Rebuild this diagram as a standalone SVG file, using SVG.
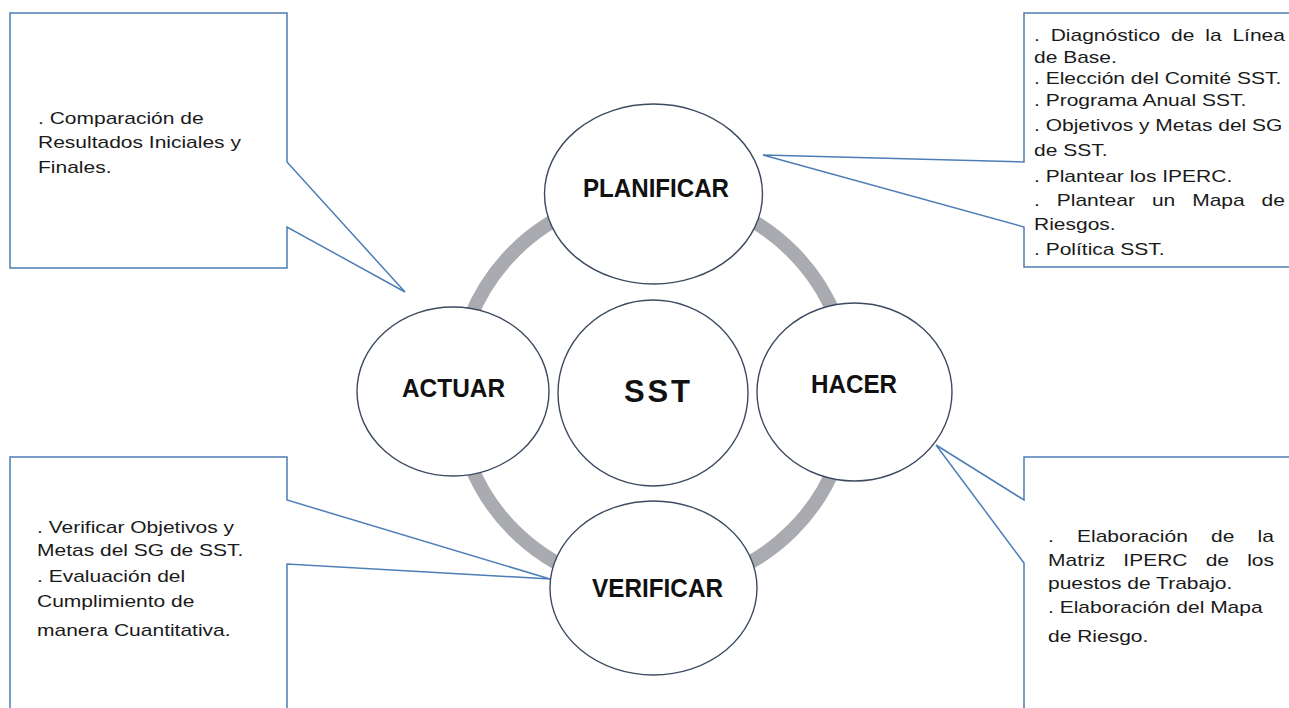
<svg xmlns="http://www.w3.org/2000/svg" width="1289" height="708" viewBox="0 0 1289 708">
<style>
.bg{fill:#ffffff}
.ring{fill:none;stroke:#a9abb1;stroke-width:14}
.node{fill:#ffffff;stroke:#3d4b60;stroke-width:1.4}
.call{fill:#ffffff;stroke:#4d7eb5;stroke-width:1.5;stroke-linejoin:miter}
.lbl{font-family:"Liberation Sans",Arial,sans-serif;font-weight:bold;font-size:25px;fill:#111111;text-anchor:middle}
.txt{font-family:"Liberation Sans",Arial,sans-serif;font-size:16.8px;fill:#1a1a1a}
</style>
<rect class="bg" x="0" y="0" width="1289" height="708"/>
<g id="connectors">
  <circle class="ring" cx="653" cy="391" r="197"/>
</g>
<g id="callout-actuar">
  <path class="call" d="M10,13 H287 V162 L405,292 L287,227 V268 H10 Z"/>
  <text class="txt" transform="translate(38,124) scale(1.25,1)">. Comparación de</text>
  <text class="txt" transform="translate(38,148) scale(1.25,1)">Resultados Iniciales y</text>
  <text class="txt" transform="translate(38,173) scale(1.25,1)">Finales.</text>
</g>
<g id="callout-planificar">
  <path class="call" d="M1290,13 H1024 V162 L763,155 L1024,227 V267 H1290"/>
  <text class="txt" transform="translate(1034,41) scale(1.25,1)" word-spacing="4">. Diagnóstico de la Línea</text>
  <text class="txt" transform="translate(1034,63) scale(1.25,1)">de Base.</text>
  <text class="txt" transform="translate(1034,84) scale(1.25,1)">. Elección del Comité SST.</text>
  <text class="txt" transform="translate(1034,106) scale(1.25,1)">. Programa Anual SST.</text>
  <text class="txt" transform="translate(1034,131) scale(1.25,1)">. Objetivos y Metas del SG</text>
  <text class="txt" transform="translate(1034,156) scale(1.25,1)">de SST.</text>
  <text class="txt" transform="translate(1034,182) scale(1.25,1)">. Plantear los IPERC.</text>
  <text class="txt" transform="translate(1034,206) scale(1.25,1)" word-spacing="8.9">. Plantear un Mapa de</text>
  <text class="txt" transform="translate(1034,230) scale(1.25,1)">Riesgos.</text>
  <text class="txt" transform="translate(1034,255) scale(1.25,1)">. Política SST.</text>
</g>
<g id="callout-verificar">
  <path class="call" d="M10,709 V457 H287 V500 L550,579 L287,564 V709"/>
  <text class="txt" transform="translate(37,533) scale(1.25,1)">. Verificar Objetivos y</text>
  <text class="txt" transform="translate(37,556) scale(1.25,1)">Metas del SG de SST.</text>
  <text class="txt" transform="translate(37,582) scale(1.25,1)">. Evaluación del</text>
  <text class="txt" transform="translate(37,607) scale(1.25,1)">Cumplimiento de</text>
  <text class="txt" transform="translate(37,636) scale(1.25,1)">manera Cuantitativa.</text>
</g>
<g id="callout-hacer">
  <path class="call" d="M1290,457 H1024 V500 L936,445 L1024,563 V709"/>
  <text class="txt" transform="translate(1048,542) scale(1.25,1)" word-spacing="13.9">. Elaboración de la</text>
  <text class="txt" transform="translate(1048,566) scale(1.25,1)" word-spacing="9.9">Matriz IPERC de los</text>
  <text class="txt" transform="translate(1048,589) scale(1.25,1)">puestos de Trabajo.</text>
  <text class="txt" transform="translate(1048,613) scale(1.25,1)">. Elaboración del Mapa</text>
  <text class="txt" transform="translate(1048,642) scale(1.25,1)">de Riesgo.</text>
</g>
<g id="node-planificar">
  <ellipse class="node" cx="653.5" cy="194" rx="109" ry="90"/>
  <text class="lbl" x="656" y="197" textLength="146" lengthAdjust="spacingAndGlyphs">PLANIFICAR</text>
</g>
<g id="node-sst">
  <ellipse class="node" cx="653" cy="393" rx="95" ry="93"/>
  <text class="lbl" x="657" y="402" style="font-size:31px" textLength="66" lengthAdjust="spacing">SST</text>
</g>
<g id="node-actuar">
  <ellipse class="node" cx="453" cy="391.5" rx="96" ry="84.5"/>
  <text class="lbl" x="453.5" y="397" textLength="103" lengthAdjust="spacingAndGlyphs">ACTUAR</text>
</g>
<g id="node-hacer">
  <ellipse class="node" cx="854.5" cy="392" rx="97.5" ry="89"/>
  <text class="lbl" x="854" y="393" textLength="86" lengthAdjust="spacingAndGlyphs">HACER</text>
</g>
<g id="node-verificar">
  <ellipse class="node" cx="653.5" cy="588" rx="103.5" ry="87"/>
  <text class="lbl" x="657.5" y="597" textLength="131" lengthAdjust="spacingAndGlyphs">VERIFICAR</text>
</g>
</svg>
